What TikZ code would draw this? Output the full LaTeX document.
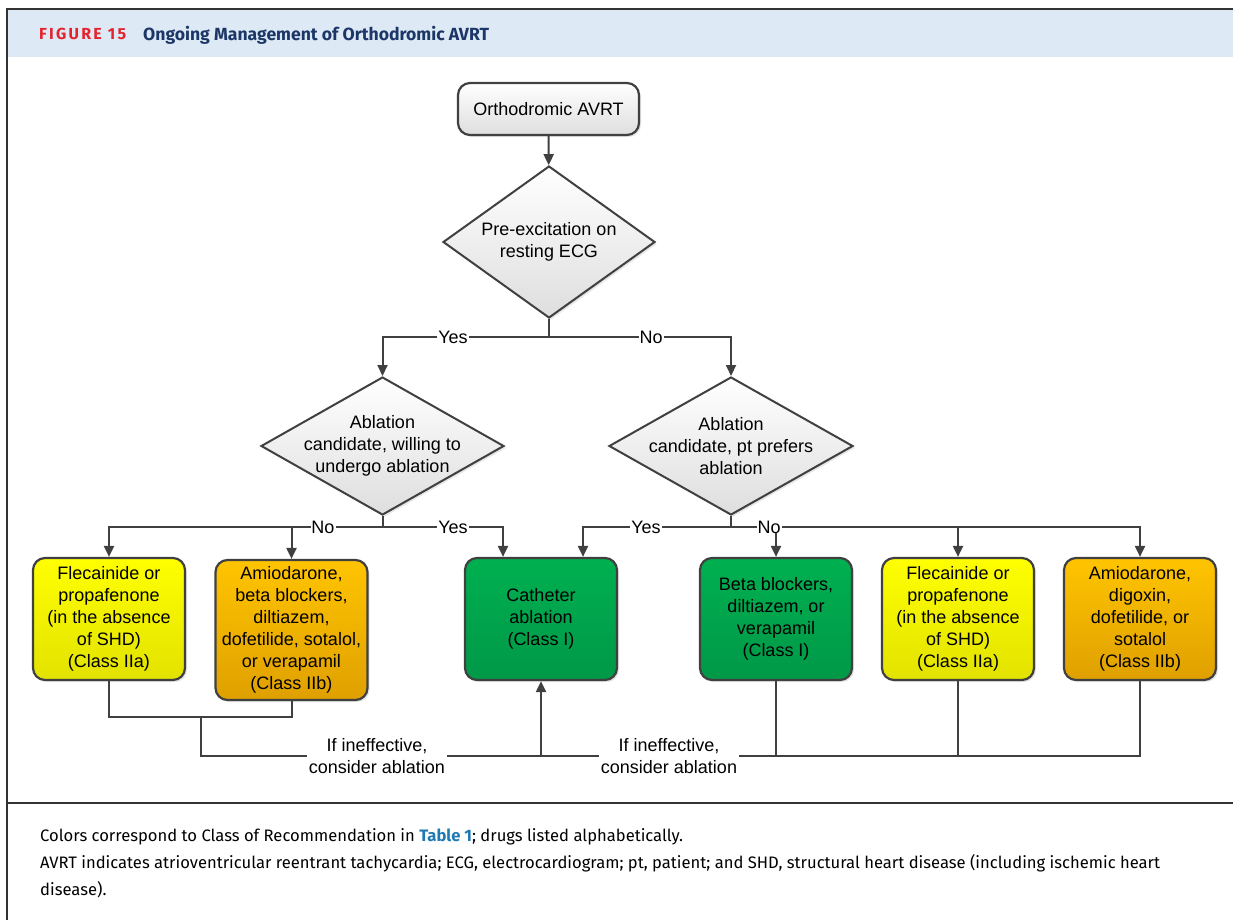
\documentclass[tikz,border=0pt]{standalone}
\usepackage{fontspec}
\setmainfont{Liberation Sans}
\newfontfamily\capfont{Fira Sans}
\usetikzlibrary{shapes.geometric,arrows.meta,shadows}

\definecolor{linegray}{HTML}{404040}
\definecolor{boxgray}{HTML}{DEDEDE}
\definecolor{headblue}{HTML}{DDE9F5}
\definecolor{figred}{HTML}{E5232C}
\definecolor{navy}{HTML}{1C3767}
\definecolor{tblue}{HTML}{1F7AB3}
\definecolor{ytop}{HTML}{FFFF00}
\definecolor{ybot}{HTML}{E2E200}
\definecolor{otop}{HTML}{FFC400}
\definecolor{obot}{HTML}{DFA000}
\definecolor{gtop}{HTML}{00B050}
\definecolor{gbot}{HTML}{009848}

\newcommand\diagfont{\fontsize{18}{22}\selectfont}

\begin{document}
\begin{tikzpicture}[x=1pt,y=-1pt,>={Triangle[length=11pt,width=10pt]},
	conn/.style={draw=linegray,line width=2pt},
	boxshadow/.style={drop shadow={opacity=.2,shadow xshift=2pt,shadow yshift=-2pt}},
	startbox/.style={boxshadow,draw=linegray,line width=2.2pt,rounded corners=12pt,top color=white,bottom color=boxgray,minimum width=181pt,minimum height=52pt,font=\diagfont},
	decision/.style={boxshadow,diamond,draw=linegray,line width=2pt,top color=white,bottom color=boxgray,inner sep=0pt},
	dtext/.style={align=center,font=\diagfont},
	box/.style={boxshadow,draw=linegray,line width=2.2pt,rounded corners=12pt,minimum width=152pt,minimum height=122pt,inner sep=0pt,align=center,font=\diagfont},
	yellowbox/.style={box,top color=ytop,bottom color=ybot},
	orangebox/.style={box,top color=otop,bottom color=obot},
	greenbox/.style={box,top color=gtop,bottom color=gbot},
	lbl/.style={fill=white,inner xsep=1pt,inner ysep=0pt,font=\diagfont}]
	\useasboundingbox (0,0) rectangle (1233,919);
	\clip (0,0) rectangle (1233,919);
	% frame and header
	\fill[headblue] (7,9) rectangle (1240,57);
	\draw[line width=1.5pt,black!80] (7,930) -- (7,9) -- (1240,9);
	\draw[line width=2pt,black!80] (7,803) -- (1240,803);
	\node[anchor=base west,inner sep=0pt,text=figred,font=\capfont\bfseries\fontsize{16}{18}\selectfont\addfontfeature{LetterSpace=14}] (fig) at (39,39.5) {FIGURE 15};
	\node[anchor=base west,inner sep=0pt,text=navy,font=\capfont\bfseries\fontsize{17.6}{20}\selectfont] (title) at (143,40) {Ongoing Management of Orthodromic AVRT};
	% nodes
	\node[startbox] (start) at (548.5,109) {Orthodromic AVRT};
	\node[decision,minimum width=212pt,minimum height=152pt] (d1) at (549,242) {};
	\node[dtext] (d1txt) at (d1) {Pre-excitation on\\resting ECG};
	\node[decision,minimum width=243pt,minimum height=138pt] (d2) at (382.5,446) {};
	\node[dtext] (d2txt) at (d2) {Ablation\\candidate, willing to\\undergo ablation};
	\node[decision,minimum width=244pt,minimum height=138pt] (d3) at (731,446) {};
	\node[dtext] (d3txt) at (d3) {Ablation\\candidate, pt prefers\\ablation};
	\node[yellowbox] (b1) at (109,619) {Flecainide or\\propafenone\\(in the absence\\of SHD)\\(Class IIa)};
	\node[orangebox,minimum height=140pt] (b2) at (291.5,630) {Amiodarone,\\beta blockers,\\diltiazem,\\dofetilide, sotalol,\\or verapamil\\(Class IIb)};
	\node[greenbox] (b3) at (541,619) {Catheter\\ablation\\(Class I)};
	\node[greenbox] (b4) at (776,619) {Beta blockers,\\diltiazem, or\\verapamil\\(Class I)};
	\node[yellowbox] (b5) at (958,619) {Flecainide or\\propafenone\\(in the absence\\of SHD)\\(Class IIa)};
	\node[orangebox] (b6) at (1140,619) {Amiodarone,\\digoxin,\\dofetilide, or\\sotalol\\(Class IIb)};
	% connectors
	\coordinate (s1) at (549,337);
	\coordinate (s2) at (382.5,527);
	\coordinate (s3) at (731,527);
	\draw[conn,->] (start) -- (d1);
	\draw[conn] (d1.south) -- (s1);
	\draw[conn,->] (s1) -| (d2.north);
	\draw[conn,->] (s1) -| (d3.north);
	\draw[conn] (d2.south) -- (s2);
	\draw[conn,->] (s2) -| (b1.north);
	\draw[conn,->] (s2) -| (b2.north);
	\draw[conn,->] (s2) -| ([xshift=-38pt]b3.north);
	\draw[conn] (d3.south) -- (s3);
	\draw[conn,->] (s3) -| ([xshift=42pt]b3.north);
	\draw[conn,->] (s3) -| (b4.north);
	\draw[conn,->] (s3) -| (b5.north);
	\draw[conn,->] (s3) -| (b6.north);
	\coordinate (m1) at (200.5,717);
	\coordinate (j) at (541,756);
	\draw[conn] (b1.south) |- (m1) -| (b2.south);
	\draw[conn] (m1) |- (j);
	\draw[conn,->] (j) -- (b3.south);
	\draw[conn] (b6.south) |- (j);
	\draw[conn] (b4.south) -- (b4.south |- j);
	\draw[conn] (b5.south) -- (b5.south |- j);
	% labels
	\node[lbl] (yes1) at (453,337) {Yes};
	\node[lbl] (no1) at (651,337) {No};
	\node[lbl] (no2) at (323,527) {No};
	\node[lbl] (yes2) at (453,527) {Yes};
	\node[lbl] (yes3) at (646,527) {Yes};
	\node[lbl] (no3) at (769,527) {No};
	\node[lbl,align=center,inner xsep=2pt] (ineff1) at (377,756) {If ineffective,\\consider ablation};
	\node[lbl,align=center,inner xsep=2pt] (ineff2) at (669,756) {If ineffective,\\consider ablation};
	% caption
	\begin{scope}[capfont/.style={anchor=base west,inner sep=0pt,font=\capfont\fontsize{16.6}{18}\selectfont}]
	\node[capfont] (cap1) at (40,841) {Colors correspond to Class of Recommendation in \textcolor{tblue}{\bfseries Table 1}; drugs listed alphabetically.};
	\node[capfont] (cap2) at (40,868) {AVRT indicates atrioventricular reentrant tachycardia; ECG, electrocardiogram; pt, patient; and SHD, structural heart disease (including ischemic heart};
	\node[capfont] (cap3) at (40,895) {disease).};
	\end{scope}
\end{tikzpicture}
\end{document}
